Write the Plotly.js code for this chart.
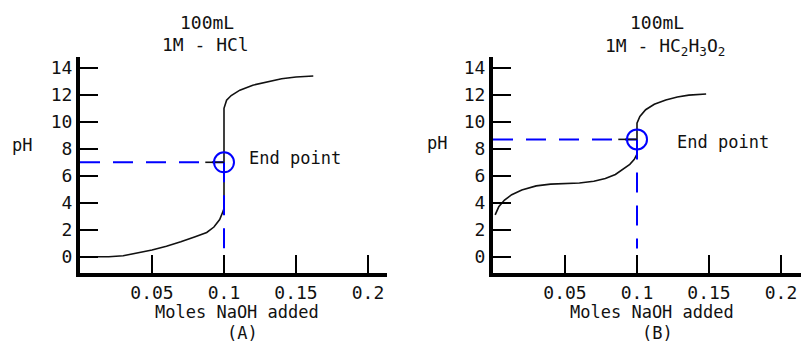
<!DOCTYPE html>
<html>
<head>
<meta charset="utf-8">
<script src="https://cdn.plot.ly/plotly-3.0.1.min.js"></script>
<style>html,body{margin:0;padding:0;background:#fff;}</style>
</head>
<body>
<div id="chart" style="width:801px;height:346px;"></div>
<script>
// ---- Data ----
// (A) 100 mL 1M HCl titrated with NaOH
const molesA = [0, 0.02, 0.03, 0.04, 0.05, 0.06, 0.07, 0.08, 0.088, 0.093, 0.097, 0.0995, 0.1, 0.1, 0.1018, 0.105, 0.111, 0.12, 0.13, 0.14, 0.15, 0.162];
const pHA    = [0, 0, 0.07, 0.28, 0.5, 0.78, 1.1, 1.48, 1.8, 2.2, 2.75, 3.4, 3.6, 11.0, 11.6, 11.95, 12.35, 12.72, 12.98, 13.2, 13.33, 13.4];
// (B) 100 mL 1M HC2H3O2 titrated with NaOH
const molesB = [0.0015, 0.004, 0.008, 0.013, 0.02, 0.03, 0.04, 0.05, 0.06, 0.07, 0.078, 0.085, 0.09, 0.095, 0.098, 0.1, 0.1, 0.102, 0.106, 0.112, 0.12, 0.128, 0.136, 0.148];
const pHB    = [3.1, 3.7, 4.2, 4.6, 4.95, 5.25, 5.38, 5.43, 5.47, 5.6, 5.8, 6.1, 6.45, 6.85, 7.2, 7.6, 9.9, 10.4, 10.9, 11.3, 11.62, 11.85, 11.98, 12.07];
// End points
const endMolesA = 0.1, endPHA = 7;
const endMolesB = 0.1, endPHB = 8.7;
const endFloorA = 0, endFloorB = 0.6;
// Tick values / labels
const xTickVals = [0.05, 0.1, 0.15, 0.2];
const xTickText = ["0.05", "0.1", "0.15", "0.2"];
const yTickVals = [0, 2, 4, 6, 8, 10, 12, 14];
const yTickText = ["0", "2", "4", "6", "8", "10", "12", "14"];

// ---- Geometry helpers (pixels -> paper) ----
const W = 801, H = 346;
const px = v => v / W;
const py = v => 1 - v / H;
const FONT = "DejaVu Sans Mono, monospace";
const BLUE = "#0000ff";
const DASH = "20px,13px";

function curve(x, y, xa, ya) {
  return {x, y, xaxis: xa, yaxis: ya, mode: "lines", type: "scatter",
    line: {color: "#111", width: 1.6, shape: "linear"}, hoverinfo: "skip", showlegend: false};
}
function dashH(ex, ey, xa, ya) {
  return {x: [0, ex], y: [ey, ey], xaxis: xa, yaxis: ya, mode: "lines", type: "scatter",
    line: {color: BLUE, width: 2, dash: DASH}, showlegend: false, hoverinfo: "skip"};
}
function dashV(ex, ey, floor, xa, ya) {
  return {x: [ex, ex], y: [ey, floor], xaxis: xa, yaxis: ya, mode: "lines", type: "scatter",
    line: {color: BLUE, width: 2, dash: DASH}, showlegend: false, hoverinfo: "skip"};
}
function cross(ex, ey, xa, ya) {
  return {x: [ex - 0.013, ex], y: [ey, ey], xaxis: xa, yaxis: ya, mode: "lines", type: "scatter",
    line: {color: "#111", width: 1.6}, showlegend: false, hoverinfo: "skip"};
}
function circ(ex, ey, xa, ya) {
  return {x: [ex], y: [ey], xaxis: xa, yaxis: ya, mode: "markers", type: "scatter",
    marker: {symbol: "circle-open", size: 20, color: BLUE, line: {color: BLUE, width: 2}},
    showlegend: false, hoverinfo: "skip"};
}

const traces = [
  curve(molesA, pHA, "x", "y"),
  dashH(endMolesA, endPHA, "x", "y"),
  dashV(endMolesA, endPHA, endFloorA, "x", "y"),
  cross(endMolesA, endPHA, "x", "y"),
  circ(endMolesA, endPHA, "x", "y"),
  curve(molesB, pHB, "x2", "y2"),
  dashH(endMolesB, endPHB, "x2", "y2"),
  dashV(endMolesB, endPHB, endFloorB, "x2", "y2"),
  cross(endMolesB, endPHB, "x2", "y2"),
  circ(endMolesB, endPHB, "x2", "y2")
];

const pxPerMole = 1440;
const yRange = [-1.21, 14.81];
function xAxis(l, r, anchor) {
  return {domain: [px(l), px(r)], range: [0, (r - l) / pxPerMole], anchor,
    showline: true, linewidth: 4, linecolor: "#000", mirror: false,
    ticks: "inside", ticklen: 18, tickwidth: 2, tickcolor: "#000",
    tickvals: xTickVals, ticktext: xTickText, showgrid: false, zeroline: false,
    tickfont: {family: FONT, size: 18, color: "#111"}, fixedrange: true};
}
function yAxis(anchor) {
  return {domain: [py(273), py(57)], range: yRange, anchor,
    showline: true, linewidth: 4, linecolor: "#000",
    ticks: "inside", ticklen: 18, tickwidth: 2, tickcolor: "#000",
    tickvals: yTickVals, ticktext: yTickText, showgrid: false, zeroline: false,
    tickfont: {family: FONT, size: 18, color: "#111"}, fixedrange: true};
}

function ann(text, x, y, size, xanchor) {
  return {text, x: px(x), y: py(y), xref: "paper", yref: "paper", showarrow: false,
    xanchor: xanchor || "center", yanchor: "middle",
    font: {family: FONT, size: size || 17, color: "#111"}};
}

const layout = {
  width: W, height: H,
  margin: {l: 0, r: 0, t: 0, b: 0},
  paper_bgcolor: "#fff", plot_bgcolor: "#fff",
  showlegend: false,
  xaxis: xAxis(80, 387, "y"),
  yaxis: yAxis("x"),
  xaxis2: xAxis(493, 801, "y2"),
  yaxis2: yAxis("x2"),
  annotations: [
    ann("100mL", 207, 22, 18),
    ann("1M - HCl", 205, 45, 18),
    ann("pH", 22, 145, 17),
    ann("End point", 247, 158, 17, "left"),
    ann("Moles NaOH added", 237, 312, 17),
    ann("(A)", 242, 333, 17),
    ann("100mL", 657, 22, 18),
    ann("1M - HC<sub>2</sub>H<sub>3</sub>O<sub>2</sub>", 665, 47, 18),
    ann("pH", 437, 143, 17),
    ann("End point", 675, 142, 17, "left"),
    ann("Moles NaOH added", 652, 312, 17),
    ann("(B)", 657, 333, 17)
  ]
};

Plotly.newPlot("chart", traces, layout, {displayModeBar: false, staticPlot: true});
</script>
</body>
</html>
